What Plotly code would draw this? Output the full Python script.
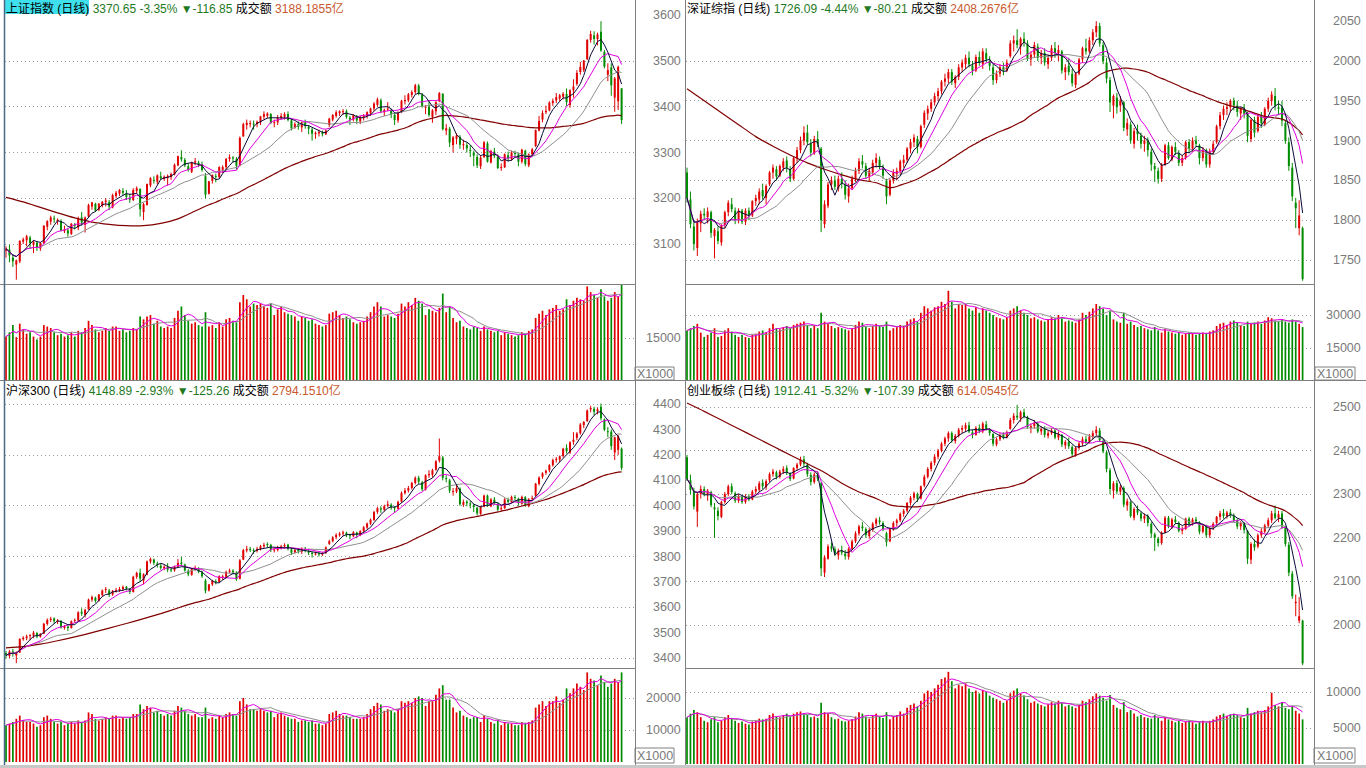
import pandas as pd
import plotly.graph_objects as go

W, H = 1366, 768

# ---------------- 上证指数 ----------------
sh_open = [3085, 3088, 3070, 3055, 3062, 3105, 3108,
           3114, 3098, 3103, 3090, 3102, 3138, 3149, 3155, 3150, 3150, 3128, 3130, 3122, 3142, 3136, 3158, 3142, 3160, 3182, 3188, 3175, 3184,
           3192, 3192, 3180, 3205, 3210, 3216, 3210, 3200, 3196, 3216, 3220, 3170, 3185, 3228, 3240, 3236, 3248, 3242, 3244, 3246, 3252,
           3272, 3290, 3284, 3270, 3258, 3278, 3278, 3274, 3248, 3210, 3238, 3248, 3246, 3262, 3268, 3286, 3288, 3285, 3272, 3335, 3360, 3362, 3362,
           3362, 3366, 3378, 3380, 3384, 3364, 3366, 3376, 3378, 3384, 3370, 3354, 3362, 3355, 3366, 3356, 3350, 3340, 3342, 3344, 3340,
           3360, 3372, 3380, 3386, 3388, 3390, 3376, 3372, 3380, 3368, 3376, 3380, 3386, 3396, 3404, 3414, 3388,
           3394, 3392, 3382, 3370, 3388, 3412, 3414, 3426, 3432, 3446, 3426, 3398, 3400, 3378, 3390, 3412, 3428, 3348, 3352, 3316, 3330, 3334,
           3316, 3316, 3306, 3300, 3290, 3270, 3290, 3320, 3278, 3302, 3290, 3266, 3268, 3294, 3286, 3298, 3296, 3280, 3304, 3272, 3296,
           3314, 3348, 3372, 3388, 3392, 3408, 3414, 3418, 3422, 3428, 3404, 3436, 3450, 3476, 3480, 3504, 3546, 3556, 3548, 3564, 3520, 3470,
           3486, 3420, 3412, 3440]
sh_high = [3095, 3098, 3078, 3066, 3108, 3114, 3120,
           3118, 3108, 3106, 3104, 3141, 3152, 3162, 3162, 3156, 3154, 3140, 3135, 3146, 3146, 3160, 3170, 3160, 3188, 3192, 3190, 3190, 3194,
           3200, 3196, 3210, 3216, 3220, 3222, 3218, 3210, 3222, 3226, 3222, 3190, 3232, 3246, 3248, 3252, 3258, 3250, 3252, 3256, 3276,
           3293, 3305, 3288, 3276, 3280, 3288, 3282, 3280, 3255, 3238, 3252, 3254, 3270, 3272, 3288, 3296, 3292, 3290, 3335, 3365, 3372, 3370, 3370,
           3370, 3380, 3390, 3388, 3386, 3372, 3382, 3386, 3388, 3390, 3374, 3366, 3368, 3368, 3372, 3360, 3354, 3346, 3350, 3348, 3350,
           3376, 3384, 3392, 3392, 3395, 3394, 3380, 3384, 3382, 3380, 3384, 3390, 3398, 3410, 3420, 3418, 3396,
           3410, 3396, 3386, 3390, 3415, 3425, 3430, 3436, 3450, 3450, 3430, 3404, 3412, 3395, 3412, 3432, 3430, 3362, 3356, 3336, 3342, 3338,
           3328, 3322, 3316, 3304, 3296, 3294, 3325, 3324, 3306, 3310, 3296, 3276, 3298, 3302, 3304, 3304, 3300, 3308, 3306, 3298, 3310,
           3350, 3380, 3392, 3402, 3412, 3418, 3430, 3428, 3432, 3440, 3438, 3460, 3480, 3498, 3502, 3548, 3566, 3565, 3562, 3587, 3524, 3495,
           3495, 3465, 3490, 3441]
sh_low = [3070, 3060, 3050, 3022, 3058, 3100, 3095,
          3090, 3080, 3085, 3085, 3100, 3130, 3142, 3146, 3142, 3128, 3124, 3116, 3120, 3132, 3130, 3140, 3125, 3158, 3175, 3170, 3172, 3180,
          3182, 3174, 3178, 3200, 3205, 3206, 3196, 3190, 3194, 3210, 3160, 3152, 3184, 3224, 3232, 3230, 3240, 3238, 3228, 3240, 3250,
          3270, 3280, 3268, 3258, 3255, 3272, 3268, 3258, 3200, 3208, 3232, 3235, 3244, 3255, 3262, 3280, 3278, 3262, 3270, 3335, 3350, 3355, 3350,
          3355, 3360, 3372, 3375, 3362, 3355, 3360, 3372, 3372, 3368, 3348, 3352, 3350, 3345, 3352, 3340, 3326, 3330, 3335, 3335, 3338,
          3356, 3368, 3376, 3380, 3382, 3374, 3360, 3368, 3362, 3362, 3370, 3374, 3380, 3390, 3400, 3386, 3380,
          3390, 3375, 3360, 3365, 3386, 3405, 3410, 3420, 3428, 3425, 3398, 3384, 3378, 3365, 3382, 3410, 3348, 3338, 3312, 3300, 3318, 3308,
          3306, 3300, 3290, 3270, 3266, 3264, 3288, 3278, 3276, 3288, 3264, 3260, 3266, 3280, 3282, 3290, 3270, 3276, 3270, 3268, 3292,
          3312, 3346, 3366, 3384, 3390, 3402, 3408, 3412, 3416, 3402, 3398, 3420, 3446, 3470, 3476, 3502, 3540, 3536, 3534, 3520, 3484, 3456,
          3424, 3389, 3393, 3362]
sh_close = [3090, 3075, 3062, 3064, 3107, 3110, 3117,
            3102, 3105, 3092, 3102, 3140, 3150, 3158, 3154, 3153, 3130, 3132, 3123, 3144, 3140, 3156, 3147, 3158, 3185, 3191, 3173, 3188, 3192,
            3195, 3182, 3207, 3212, 3218, 3212, 3203, 3197, 3218, 3222, 3176, 3187, 3231, 3244, 3238, 3250, 3244, 3247, 3249, 3253, 3273,
            3292, 3285, 3272, 3262, 3279, 3281, 3275, 3262, 3208, 3237, 3251, 3246, 3268, 3268, 3286, 3290, 3287, 3271, 3332, 3362, 3365, 3363, 3361,
            3367, 3379, 3384, 3385, 3365, 3366, 3376, 3380, 3384, 3371, 3353, 3362, 3356, 3366, 3358, 3352, 3341, 3343, 3345, 3340, 3348,
            3374, 3382, 3388, 3390, 3390, 3378, 3372, 3381, 3370, 3378, 3380, 3388, 3396, 3407, 3416, 3390, 3393,
            3395, 3383, 3371, 3388, 3413, 3415, 3427, 3432, 3447, 3429, 3402, 3399, 3382, 3392, 3410, 3430, 3351, 3353, 3322, 3333, 3337, 3317,
            3318, 3309, 3303, 3293, 3272, 3289, 3322, 3280, 3303, 3292, 3266, 3267, 3296, 3287, 3300, 3297, 3280, 3306, 3275, 3296, 3307,
            3349, 3369, 3386, 3391, 3409, 3413, 3421, 3425, 3428, 3410, 3436, 3444, 3474, 3487, 3501, 3546, 3559, 3548, 3558, 3523, 3488, 3480,
            3447, 3462, 3487, 3371]
sh_vol = [15500, 17000, 19500, 15300, 20000, 18000, 16500,
          17000, 15500, 14500, 15500, 19500, 19000, 18500, 17000, 16000, 16500, 15500, 16000, 17000, 15500, 17500, 17000, 18500, 21000, 19500, 18000, 17000, 17500,
          18500, 17500, 19000, 19000, 17500, 18000, 17000, 17500, 18500, 18000, 22500, 21500, 22500, 23000, 20000, 21000, 19000, 18500, 19000, 18500, 22000,
          24500, 26000, 23000, 21000, 20000, 20500, 19500, 19000, 24000, 19000, 19500, 18500, 20500, 19000, 21500, 22000, 21000, 20500, 27500, 30000, 28500, 26000, 27000,
          26500, 27000, 26000, 25500, 27000, 23000, 25000, 26000, 24000, 23500, 23000, 22500, 21000, 22500, 22000, 21000, 21500, 20000, 19500, 19000, 19500,
          23500, 24000, 24500, 23000, 22000, 22500, 21500, 20500, 20000, 20500, 21000, 22500, 24000, 26000, 27500, 26000, 22500,
          23000, 22500, 22000, 23500, 27000, 26000, 27500, 26500, 29000, 28000, 27000, 23000, 25000, 24500, 24000, 25500, 30500, 24000, 26000, 22000, 20500, 21000,
          19000, 18500, 18000, 19000, 18500, 17500, 19000, 18000, 17500, 17000, 17500, 16000, 17000, 16500, 16000, 15500, 16000, 17000, 16500, 17500, 18000,
          22000, 23500, 24500, 23000, 25000, 25500, 26500, 24500, 25000, 28500, 26500, 28000, 29000, 28500, 28000, 33000, 31000, 30000, 29000, 32000, 29500, 28000,
          29000, 31000, 29500, 33500]
sh_ma60_head_idx = [0, 5, 10, 15, 20, 25, 30, 35, 40, 45, 50, 55]
sh_ma60_head = [3202, 3192, 3180, 3168, 3157, 3148, 3143, 3140, 3140, 3145, 3155, 3172]

# ---------------- 深证综指 ----------------
sz_open = [1860, 1826, 1792, 1765, 1796, 1808, 1804,
           1810, 1780, 1786, 1772, 1794, 1810, 1820, 1812, 1800, 1812, 1798, 1812, 1806, 1824, 1826, 1838, 1828, 1845, 1860, 1864, 1856, 1866,
           1875, 1864, 1852, 1878, 1888, 1900, 1910, 1896, 1884, 1902, 1890, 1795, 1818, 1845, 1850, 1840, 1852, 1844, 1830, 1840, 1852,
           1862, 1874, 1868, 1855, 1860, 1872, 1876, 1866, 1850, 1832, 1850, 1858, 1862, 1872, 1876, 1890, 1898, 1902, 1892, 1920, 1934, 1940, 1948,
           1956, 1962, 1974, 1978, 1986, 1972, 1980, 1992, 1996, 2004, 1994, 1988, 2005, 1996, 2010, 2000, 1992, 1976, 1984, 1992, 1988,
           2006, 2022, 2026, 2018, 2028, 2022, 2002, 2008, 2018, 2004, 2010, 1996, 2004, 2016, 2010, 2012, 1986,
           1994, 1984, 1970, 1984, 2002, 2016, 2012, 2026, 2036, 2044, 2020, 1998, 1976, 1944, 1954, 1944, 1948, 1914, 1920, 1896, 1912, 1906,
           1896, 1900, 1886, 1868, 1862, 1852, 1870, 1894, 1876, 1892, 1884, 1872, 1878, 1898, 1890, 1900, 1894, 1878, 1888, 1870, 1886,
           1898, 1918, 1932, 1940, 1942, 1950, 1944, 1934, 1940, 1934, 1902, 1926, 1912, 1930, 1920, 1940, 1950, 1956, 1942, 1942, 1922, 1898,
           1866, 1822, 1790, 1790]
sz_high = [1866, 1836, 1800, 1802, 1812, 1815, 1816,
           1812, 1790, 1792, 1795, 1812, 1825, 1828, 1816, 1815, 1814, 1815, 1816, 1825, 1832, 1840, 1846, 1845, 1862, 1870, 1868, 1870, 1878,
           1880, 1868, 1880, 1892, 1905, 1918, 1920, 1902, 1906, 1912, 1892, 1825, 1848, 1855, 1856, 1856, 1860, 1850, 1846, 1856, 1866,
           1878, 1882, 1872, 1866, 1876, 1884, 1880, 1870, 1852, 1852, 1864, 1866, 1876, 1882, 1892, 1902, 1908, 1906, 1920, 1938, 1944, 1952, 1960,
           1966, 1976, 1984, 1990, 1990, 1982, 1996, 2002, 2008, 2012, 2000, 2008, 2012, 2016, 2016, 2006, 1996, 1988, 1996, 1998, 2002,
           2026, 2032, 2040, 2030, 2036, 2026, 2012, 2024, 2022, 2014, 2016, 2008, 2020, 2024, 2020, 2014, 1996,
           2004, 1990, 1986, 2004, 2018, 2028, 2030, 2040, 2050, 2048, 2024, 2004, 1980, 1958, 1960, 1956, 1950, 1928, 1924, 1916, 1920, 1910,
           1906, 1904, 1890, 1872, 1866, 1872, 1896, 1898, 1894, 1898, 1888, 1882, 1900, 1902, 1904, 1906, 1896, 1892, 1890, 1890, 1900,
           1920, 1936, 1944, 1948, 1952, 1954, 1950, 1942, 1946, 1936, 1928, 1930, 1934, 1936, 1942, 1954, 1962, 1966, 1950, 1950, 1926, 1904,
           1872, 1828, 1825, 1792]
sz_low = [1822, 1790, 1762, 1755, 1785, 1800, 1796,
          1778, 1752, 1770, 1768, 1790, 1805, 1810, 1795, 1796, 1795, 1794, 1800, 1804, 1818, 1820, 1826, 1820, 1843, 1852, 1850, 1854, 1862,
          1860, 1848, 1850, 1872, 1884, 1894, 1895, 1880, 1882, 1892, 1785, 1790, 1815, 1838, 1838, 1836, 1840, 1826, 1822, 1838, 1848,
          1858, 1865, 1852, 1848, 1856, 1866, 1864, 1852, 1820, 1830, 1846, 1850, 1858, 1866, 1872, 1884, 1892, 1884, 1890, 1916, 1926, 1936, 1944,
          1950, 1958, 1968, 1972, 1970, 1966, 1976, 1986, 1990, 1992, 1982, 1986, 1994, 1990, 1998, 1988, 1970, 1972, 1980, 1982, 1986,
          2004, 2012, 2016, 2008, 2018, 2000, 1994, 2004, 2000, 1996, 1994, 1990, 2000, 2004, 2000, 1984, 1976,
          1982, 1968, 1966, 1982, 1998, 2008, 2010, 2020, 2030, 2018, 1996, 1972, 1936, 1928, 1934, 1936, 1912, 1906, 1896, 1890, 1900, 1890,
          1886, 1880, 1862, 1848, 1846, 1848, 1868, 1876, 1874, 1882, 1868, 1868, 1876, 1884, 1886, 1892, 1870, 1874, 1866, 1866, 1882,
          1896, 1914, 1926, 1932, 1936, 1938, 1930, 1926, 1928, 1898, 1898, 1904, 1910, 1916, 1918, 1936, 1944, 1938, 1932, 1918, 1896, 1862,
          1824, 1790, 1781, 1724]
sz_close = [1828, 1795, 1770, 1798, 1808, 1806, 1811,
            1784, 1788, 1774, 1793, 1810, 1822, 1814, 1800, 1812, 1798, 1812, 1806, 1824, 1828, 1836, 1830, 1843, 1860, 1866, 1855, 1868, 1874,
            1866, 1852, 1878, 1888, 1900, 1910, 1898, 1885, 1902, 1896, 1800, 1820, 1845, 1850, 1842, 1852, 1846, 1832, 1840, 1852, 1862,
            1874, 1870, 1856, 1862, 1872, 1878, 1868, 1856, 1830, 1850, 1860, 1862, 1874, 1876, 1890, 1898, 1904, 1892, 1918, 1935, 1940, 1948, 1956,
            1962, 1974, 1978, 1986, 1974, 1980, 1992, 1998, 2004, 1996, 1988, 2005, 1998, 2012, 2002, 1994, 1976, 1984, 1992, 1988, 1998,
            2022, 2026, 2020, 2028, 2024, 2004, 2008, 2020, 2004, 2010, 1998, 2004, 2016, 2010, 2014, 1988, 1992,
            1986, 1972, 1984, 2002, 2016, 2012, 2026, 2036, 2044, 2022, 2000, 1978, 1948, 1956, 1942, 1950, 1916, 1922, 1900, 1912, 1908, 1896,
            1900, 1888, 1870, 1864, 1852, 1870, 1894, 1878, 1892, 1886, 1872, 1878, 1898, 1890, 1900, 1896, 1878, 1888, 1870, 1886, 1896,
            1918, 1932, 1940, 1942, 1950, 1944, 1936, 1940, 1934, 1906, 1926, 1910, 1930, 1922, 1940, 1950, 1958, 1944, 1940, 1925, 1900, 1868,
            1830, 1815, 1806, 1726]
sz_vol = [23000, 24000, 25000, 26000, 22000, 20000, 21000,
          22000, 24000, 20000, 20500, 23000, 24000, 22500, 21000, 20000, 21000, 20000, 19500, 21000, 21500, 22500, 23000, 22000, 24000, 26000, 24000, 23500, 24500,
          25000, 24000, 25500, 26000, 26500, 27000, 25500, 24000, 25000, 24000, 31000, 27000, 26000, 25000, 24000, 24500, 24000, 23500, 23000, 24000, 25500,
          27000, 26500, 25000, 24000, 25000, 26000, 25000, 24500, 27000, 23000, 24000, 24500, 25500, 25000, 27000, 28000, 28500, 27000, 31000, 34000, 33000, 32000, 33500,
          34000, 36000, 35000, 41000, 36000, 33000, 35000, 34500, 35000, 33000, 32000, 33500, 31000, 33000, 32000, 31000, 30000, 29000, 28500, 28000, 29000,
          32000, 33000, 34000, 32000, 31000, 30000, 28500, 29000, 28000, 27500, 27000, 28000, 29000, 28500, 30000, 29000, 27000,
          27500, 27000, 26500, 28000, 31000, 30000, 31500, 33000, 35000, 34000, 33000, 30000, 32000, 28000, 27000, 26500, 31000, 26000, 27000, 25500, 24500, 25000,
          24000, 23500, 23000, 24500, 23000, 22000, 23500, 22500, 22000, 21500, 22000, 21000, 21500, 22000, 21500, 21000, 21500, 22000, 21500, 22500, 23000,
          25000, 26000, 26500, 25500, 27000, 27500, 26500, 25500, 25000, 27000, 26000, 26500, 27000, 26000, 27500, 29000, 28500, 27500, 27000, 28000, 27000, 26500,
          28000, 27000, 26000, 24500]
sz_ma60_head_idx = [0, 5, 10, 15, 20, 25, 30, 35, 40, 45, 50, 55]
sz_ma60_head = [1965, 1950, 1935, 1920, 1905, 1893, 1882, 1872, 1864, 1857, 1851, 1847]

# ---------------- 沪深300 ----------------
hs_open = [3420, 3408, 3424, 3410, 3422, 3474, 3478,
           3486, 3488, 3498, 3484, 3496, 3534, 3550, 3556, 3542, 3546, 3518, 3524, 3518, 3546, 3548, 3582, 3570, 3592, 3630, 3638, 3626, 3648,
           3668, 3666, 3650, 3664, 3668, 3672, 3680, 3672, 3660, 3720, 3736, 3705, 3728, 3780, 3788, 3772, 3764, 3754, 3760, 3746, 3746,
           3760, 3776, 3768, 3744, 3728, 3750, 3752, 3738, 3705, 3666, 3690, 3702, 3700, 3718, 3720, 3740, 3744, 3736, 3712, 3788, 3824, 3830, 3824,
           3822, 3830, 3840, 3846, 3846, 3824, 3826, 3834, 3840, 3846, 3828, 3816, 3826, 3818, 3830, 3820, 3814, 3808, 3812, 3808, 3814,
           3850, 3860, 3876, 3884, 3890, 3894, 3884, 3880, 3894, 3884, 3900, 3914, 3930, 3944, 3976, 3990, 3984,
           4000, 4004, 3994, 3988, 4016, 4050, 4060, 4070, 4090, 4110, 4092, 4064, 4120, 4122, 4142, 4178, 4190, 4106, 4100, 4054, 4056, 4068,
           4004, 4016, 4008, 4002, 3992, 3968, 3996, 4040, 3998, 4024, 4008, 3986, 3990, 4024, 4014, 4034, 4028, 4008, 4034, 3998, 4026,
           4040, 4086, 4114, 4130, 4140, 4160, 4180, 4182, 4196, 4228, 4210, 4252, 4268, 4286, 4318, 4334, 4380, 4382, 4372, 4390, 4340, 4292,
           4292, 4210, 4220, 4225]
hs_high = [3428, 3432, 3436, 3426, 3478, 3486, 3492,
           3494, 3506, 3502, 3498, 3538, 3556, 3562, 3560, 3554, 3550, 3530, 3528, 3548, 3556, 3584, 3596, 3594, 3634, 3646, 3642, 3652, 3670,
           3680, 3672, 3668, 3676, 3680, 3686, 3684, 3676, 3724, 3740, 3752, 3734, 3784, 3796, 3792, 3780, 3772, 3766, 3774, 3756, 3764,
           3790, 3798, 3772, 3750, 3752, 3764, 3758, 3744, 3712, 3692, 3708, 3710, 3726, 3728, 3744, 3752, 3750, 3742, 3790, 3830, 3842, 3838, 3832,
           3838, 3846, 3854, 3856, 3850, 3836, 3842, 3846, 3852, 3850, 3834, 3830, 3832, 3836, 3838, 3826, 3818, 3820, 3818, 3818, 3840,
           3866, 3880, 3892, 3896, 3902, 3898, 3890, 3900, 3898, 3904, 3920, 3934, 3950, 3980, 3996, 3998, 4004,
           4020, 4010, 3998, 4020, 4056, 4070, 4078, 4094, 4116, 4118, 4098, 4124, 4140, 4146, 4180, 4265, 4196, 4120, 4106, 4070, 4082, 4072,
           4024, 4022, 4018, 4008, 3996, 4000, 4044, 4044, 4030, 4034, 4012, 4000, 4030, 4032, 4040, 4042, 4032, 4040, 4038, 4030, 4040,
           4090, 4116, 4132, 4142, 4164, 4186, 4192, 4198, 4228, 4242, 4254, 4290, 4290, 4326, 4334, 4380, 4394, 4390, 4388, 4403, 4344, 4310,
           4300, 4272, 4280, 4230]
hs_low = [3398, 3400, 3405, 3380, 3420, 3468, 3470,
          3470, 3478, 3478, 3480, 3494, 3528, 3542, 3536, 3534, 3516, 3512, 3506, 3516, 3538, 3544, 3566, 3560, 3590, 3622, 3618, 3622, 3642,
          3656, 3640, 3645, 3658, 3660, 3664, 3666, 3652, 3658, 3712, 3700, 3690, 3726, 3772, 3766, 3756, 3748, 3746, 3738, 3738, 3740,
          3756, 3762, 3740, 3722, 3724, 3744, 3734, 3716, 3655, 3662, 3684, 3690, 3696, 3708, 3714, 3734, 3730, 3704, 3710, 3786, 3816, 3818, 3810,
          3816, 3824, 3834, 3836, 3818, 3816, 3820, 3828, 3832, 3824, 3806, 3812, 3812, 3810, 3816, 3806, 3796, 3804, 3800, 3802, 3810,
          3846, 3856, 3868, 3878, 3882, 3876, 3868, 3876, 3872, 3880, 3894, 3908, 3924, 3940, 3968, 3972, 3978,
          3994, 3984, 3972, 3984, 4012, 4044, 4052, 4064, 4084, 4086, 4058, 4060, 4110, 4112, 4138, 4170, 4100, 4092, 4050, 4040, 4050, 4000,
          3996, 3998, 3990, 3975, 3962, 3964, 3994, 3996, 3994, 4004, 3980, 3978, 3988, 4008, 4010, 4022, 4000, 4004, 3996, 3994, 4020,
          4036, 4080, 4106, 4122, 4132, 4154, 4170, 4172, 4190, 4206, 4204, 4240, 4258, 4280, 4306, 4330, 4368, 4356, 4360, 4336, 4294, 4270,
          4220, 4180, 4200, 4140]
hs_close = [3410, 3425, 3422, 3420, 3475, 3480, 3485,
            3490, 3500, 3485, 3495, 3535, 3550, 3555, 3545, 3548, 3520, 3525, 3518, 3545, 3550, 3580, 3575, 3590, 3630, 3640, 3625, 3650, 3666,
            3670, 3650, 3665, 3668, 3672, 3680, 3675, 3660, 3720, 3735, 3713, 3730, 3780, 3790, 3775, 3765, 3755, 3760, 3748, 3745, 3760,
            3775, 3770, 3745, 3730, 3750, 3755, 3740, 3722, 3665, 3690, 3705, 3700, 3722, 3720, 3740, 3745, 3738, 3710, 3785, 3825, 3830, 3825, 3822,
            3830, 3840, 3846, 3845, 3825, 3826, 3835, 3840, 3845, 3830, 3815, 3825, 3820, 3830, 3822, 3815, 3810, 3812, 3808, 3812, 3836,
            3860, 3875, 3885, 3890, 3895, 3885, 3880, 3895, 3885, 3900, 3915, 3930, 3945, 3975, 3990, 3985, 3998,
            4006, 3995, 3990, 4015, 4050, 4060, 4070, 4090, 4110, 4095, 4065, 4120, 4125, 4140, 4175, 4195, 4110, 4105, 4060, 4055, 4070, 4006,
            4015, 4010, 4005, 3995, 3970, 3995, 4040, 4000, 4025, 4010, 3985, 3990, 4025, 4015, 4035, 4030, 4010, 4035, 4000, 4025, 4030,
            4087, 4111, 4128, 4138, 4160, 4180, 4185, 4195, 4225, 4215, 4250, 4260, 4285, 4320, 4330, 4375, 4385, 4370, 4380, 4345, 4300, 4290,
            4235, 4270, 4274, 4149]
hs_vol = [11500, 12000, 12500, 13500, 14500, 13000, 12500,
          12500, 12000, 11000, 11500, 14000, 14500, 13500, 12500, 12000, 12500, 11500, 12000, 12500, 12000, 13000, 12500, 13000, 15500, 15000, 13500, 13000, 13500,
          14000, 13500, 14500, 14500, 13500, 14000, 13500, 14000, 15000, 15000, 18000, 16500, 17500, 17000, 15500, 16000, 15000, 14500, 15000, 14500, 16000,
          17500, 17000, 16000, 15000, 14500, 15000, 14000, 14000, 17000, 13500, 14000, 13500, 14500, 14000, 15000, 15500, 15000, 14500, 19000, 20000, 18000, 16500, 16500,
          16000, 16500, 16000, 15500, 16000, 14000, 15000, 15500, 14500, 14000, 13500, 13500, 12500, 13000, 13000, 12500, 13000, 12000, 12000, 11500, 12000,
          15000, 15500, 16000, 15000, 14500, 14500, 14000, 13500, 13500, 13500, 14000, 15000, 16500, 17500, 18500, 18000, 16000,
          16500, 16000, 15500, 16500, 19000, 18500, 19000, 18500, 20000, 20500, 20000, 17500, 19000, 19000, 21000, 23000, 24000, 19500, 19500, 17000, 15500, 16000,
          14500, 14000, 13500, 14000, 14000, 12500, 14500, 13500, 12500, 12000, 13000, 11500, 12500, 12000, 12000, 11500, 11500, 12500, 12000, 12500, 13000,
          17000, 18000, 19000, 17500, 19000, 19000, 20500, 18500, 19500, 23000, 21500, 23000, 24500, 23500, 22500, 28000, 26000, 25500, 24000, 27000, 25000, 23500,
          24500, 26000, 25000, 28000]
hs_ma60_head_idx = [0, 5, 10, 15, 20, 25, 30, 35, 40, 45, 50, 55]
hs_ma60_head = [3440, 3445, 3455, 3468, 3483, 3500, 3518, 3536, 3555, 3575, 3597, 3618]

# ---------------- 创业板综 ----------------
cy_open = [2385, 2332, 2308, 2260, 2300, 2312, 2300,
           2305, 2270, 2262, 2248, 2282, 2300, 2318, 2302, 2285, 2296, 2282, 2296, 2288, 2306, 2310, 2326, 2316, 2332, 2346, 2350, 2340, 2352,
           2360, 2348, 2336, 2360, 2368, 2380, 2368, 2344, 2328, 2345, 2325, 2120, 2152, 2180, 2174, 2160, 2170, 2164, 2156, 2175, 2192,
           2210, 2226, 2220, 2204, 2218, 2232, 2240, 2234, 2210, 2192, 2220, 2234, 2240, 2255, 2262, 2280, 2292, 2300, 2290, 2320, 2340, 2358, 2372,
           2386, 2400, 2416, 2428, 2440, 2422, 2434, 2448, 2450, 2458, 2442, 2436, 2452, 2444, 2460, 2448, 2438, 2414, 2426, 2436, 2430,
           2450, 2470, 2480, 2474, 2488, 2476, 2452, 2456, 2462, 2444, 2450, 2434, 2440, 2446, 2430, 2436, 2412,
           2420, 2408, 2390, 2406, 2416, 2426, 2420, 2432, 2440, 2446, 2422, 2396, 2355, 2308, 2325, 2306, 2314, 2274, 2282, 2246, 2266, 2256,
           2244, 2250, 2232, 2208, 2198, 2188, 2212, 2246, 2224, 2242, 2234, 2216, 2220, 2244, 2232, 2242, 2236, 2214, 2228, 2206, 2222,
           2234, 2248, 2256, 2250, 2258, 2250, 2240, 2226, 2232, 2216, 2150, 2186, 2180, 2206, 2214, 2228, 2240, 2256, 2246, 2256, 2224, 2184,
           2118, 2050, 2010, 2010]
cy_high = [2390, 2345, 2315, 2305, 2320, 2318, 2312,
           2308, 2280, 2270, 2285, 2305, 2322, 2325, 2306, 2300, 2298, 2300, 2300, 2310, 2318, 2330, 2334, 2334, 2350, 2358, 2354, 2356, 2364,
           2366, 2350, 2362, 2372, 2386, 2388, 2372, 2350, 2350, 2352, 2328, 2160, 2185, 2190, 2180, 2175, 2182, 2172, 2178, 2196, 2215,
           2230, 2236, 2224, 2222, 2236, 2246, 2248, 2238, 2214, 2222, 2238, 2244, 2258, 2266, 2282, 2296, 2306, 2304, 2320, 2345, 2362, 2376, 2392,
           2404, 2420, 2432, 2444, 2444, 2438, 2452, 2458, 2464, 2466, 2448, 2456, 2460, 2466, 2468, 2452, 2440, 2430, 2440, 2442, 2446,
           2475, 2486, 2505, 2492, 2496, 2480, 2462, 2470, 2466, 2456, 2456, 2446, 2452, 2450, 2444, 2438, 2424,
           2430, 2412, 2410, 2420, 2432, 2434, 2438, 2446, 2456, 2452, 2426, 2400, 2360, 2330, 2332, 2322, 2318, 2290, 2286, 2270, 2274, 2260,
           2256, 2254, 2236, 2212, 2202, 2215, 2250, 2250, 2246, 2250, 2238, 2226, 2246, 2248, 2246, 2248, 2238, 2232, 2230, 2226, 2236,
           2250, 2262, 2266, 2262, 2266, 2256, 2244, 2238, 2236, 2218, 2190, 2196, 2210, 2222, 2232, 2246, 2262, 2274, 2262, 2262, 2228, 2190,
           2124, 2070, 2064, 2012]
cy_low = [2330, 2300, 2265, 2225, 2290, 2295, 2285,
          2270, 2200, 2240, 2245, 2278, 2296, 2300, 2280, 2280, 2278, 2278, 2284, 2286, 2300, 2305, 2312, 2310, 2328, 2340, 2334, 2336, 2346,
          2344, 2330, 2334, 2354, 2364, 2362, 2340, 2320, 2324, 2330, 2112, 2110, 2150, 2168, 2158, 2150, 2160, 2150, 2150, 2172, 2188,
          2205, 2215, 2200, 2198, 2214, 2226, 2230, 2215, 2180, 2190, 2216, 2226, 2236, 2248, 2258, 2274, 2286, 2282, 2288, 2316, 2336, 2352, 2366,
          2380, 2396, 2410, 2420, 2418, 2416, 2430, 2440, 2444, 2440, 2428, 2434, 2440, 2440, 2446, 2434, 2410, 2410, 2422, 2426, 2428,
          2448, 2462, 2470, 2466, 2474, 2450, 2440, 2450, 2440, 2436, 2430, 2428, 2436, 2426, 2424, 2408, 2404,
          2404, 2385, 2386, 2402, 2410, 2414, 2416, 2426, 2434, 2420, 2394, 2350, 2300, 2290, 2300, 2298, 2270, 2262, 2246, 2240, 2252, 2238,
          2234, 2226, 2200, 2170, 2180, 2184, 2210, 2222, 2220, 2232, 2212, 2208, 2218, 2226, 2228, 2232, 2208, 2210, 2200, 2200, 2218,
          2230, 2240, 2244, 2244, 2246, 2236, 2220, 2218, 2210, 2140, 2140, 2170, 2176, 2200, 2210, 2222, 2234, 2242, 2236, 2220, 2180, 2112,
          2060, 2020, 2004, 1908]
cy_close = [2335, 2310, 2272, 2300, 2312, 2300, 2308,
            2275, 2265, 2250, 2282, 2300, 2318, 2305, 2285, 2296, 2282, 2296, 2288, 2306, 2312, 2325, 2318, 2330, 2346, 2352, 2340, 2352, 2358,
            2350, 2335, 2360, 2368, 2380, 2370, 2346, 2328, 2345, 2336, 2130, 2155, 2180, 2175, 2164, 2170, 2166, 2158, 2175, 2192, 2210,
            2226, 2222, 2206, 2218, 2232, 2242, 2236, 2220, 2190, 2220, 2234, 2240, 2255, 2262, 2280, 2292, 2302, 2290, 2318, 2340, 2358, 2372, 2386,
            2400, 2416, 2428, 2440, 2424, 2434, 2448, 2452, 2458, 2444, 2436, 2452, 2446, 2462, 2450, 2440, 2416, 2426, 2436, 2430, 2442,
            2470, 2480, 2476, 2488, 2478, 2454, 2456, 2464, 2444, 2450, 2436, 2440, 2446, 2430, 2438, 2414, 2420,
            2410, 2392, 2406, 2416, 2426, 2420, 2432, 2440, 2448, 2424, 2398, 2358, 2312, 2325, 2306, 2316, 2276, 2284, 2250, 2266, 2258, 2244,
            2250, 2234, 2210, 2200, 2188, 2212, 2246, 2226, 2242, 2236, 2216, 2220, 2244, 2232, 2242, 2238, 2214, 2228, 2206, 2222, 2232,
            2248, 2256, 2250, 2258, 2252, 2240, 2226, 2234, 2218, 2152, 2186, 2178, 2206, 2216, 2228, 2240, 2256, 2246, 2254, 2226, 2186, 2120,
            2066, 2053, 2020, 1912]
cy_vol = [6500, 7000, 7500, 7200, 6500, 6000, 5800,
          6200, 6500, 5800, 6000, 6500, 6800, 6400, 6000, 5700, 5900, 5600, 5500, 5900, 6000, 6300, 6200, 6300, 6800, 7000, 6600, 6500, 6800,
          7000, 6500, 7000, 7200, 7300, 7100, 6800, 6500, 6600, 6400, 8500, 7200, 7000, 6500, 6200, 6300, 6000, 5900, 6000, 6200, 6600,
          7200, 7000, 6600, 6300, 6700, 7000, 6600, 6400, 7200, 6200, 6600, 6800, 7300, 7000, 7800, 8200, 8400, 8000, 8800, 9800, 10200, 10000, 10500,
          11000, 11800, 12000, 12800, 11500, 10500, 11000, 10800, 11200, 10500, 10000, 10200, 9800, 10300, 10000, 9500, 9200, 9000, 8800, 8500, 8800,
          9800, 10200, 10500, 9800, 9500, 9000, 8500, 8700, 8400, 8200, 8000, 8300, 8600, 8400, 8800, 8500, 8000,
          8200, 8000, 7800, 8200, 8800, 8600, 9000, 9400, 9800, 9500, 9200, 8800, 9600, 8200, 7800, 7600, 8600, 7200, 7500, 7000, 6600, 6800,
          6500, 6400, 6300, 6800, 6400, 6000, 6500, 6200, 6000, 5800, 6000, 5700, 5900, 6000, 5800, 5600, 5800, 6000, 5700, 6000, 6200,
          6600, 6800, 7000, 6700, 6900, 7000, 6800, 6500, 6400, 7800, 7000, 7200, 7400, 7200, 7500, 8000, 9900, 8200, 8000, 8600, 7800, 7600,
          8000, 7400, 7000, 6200]
cy_ma60_head_idx = [0, 5, 10, 15, 20, 25, 30, 35, 40, 45, 50, 55]
cy_ma60_head = [2509, 2490, 2470, 2450, 2430, 2410, 2390, 2370, 2350, 2325, 2305, 2290]

# ---------------- titles / axis labels ----------------
titles = [
    ("上证指数 (日线)", "3370.65 -3.35% ▼-116.85", "3188.1855亿"),
    ("深证综指 (日线)", "1726.09 -4.44% ▼-80.21", "2408.2676亿"),
    ("沪深300 (日线)", "4148.89 -2.93% ▼-125.26", "2794.1510亿"),
    ("创业板综 (日线)", "1912.41 -5.32% ▼-107.39", "614.0545亿"),
]
sh_labels = [3600, 3500, 3400, 3300, 3200, 3100]
sz_labels = [2050, 2000, 1950, 1900, 1850, 1800, 1750]
hs_labels = [4400, 4300, 4200, 4100, 4000, 3900, 3800, 3700, 3600, 3500, 3400]
cy_labels = [2500, 2400, 2300, 2200, 2100, 2000]
sh_grid = [3500, 3400, 3300, 3200, 3100]
sz_grid = [2000, 1950, 1900, 1850, 1800, 1750]
hs_grid = [4400, 4200, 4000, 3800, 3600, 3400]
cy_grid = [2500, 2400, 2300, 2200, 2100, 2000]
sh_vlabels = [15000]
sz_vlabels = [30000, 15000]
hs_vlabels = [20000, 10000]
cy_vlabels = [10000, 5000]

RED = "#e00000"
GREEN = "#008c00"
MA_COLORS = {5: "#0a0a3c", 10: "#e000e0", 20: "#909090"}
MA60_COLOR = "#800000"
GRID = "#9a9a9a"
FRAME = "#808080"
LABEL = "#7a7a7a"


def fx(p):
    return p / W


def fy(p):
    return 1 - p / H


def lin_range(p_lo, p_hi, v1, p1, v2, p2):
    s = (v2 - v1) / (p2 - p1)
    return [v1 + (p_lo - p1) * s, v1 + (p_hi - p1) * s]


# layout geometry (pixels) for the 4 panels
panels = [
    dict(o=sh_open, h=sh_high, l=sh_low, c=sh_close, v=sh_vol, hi=sh_ma60_head_idx, hv=sh_ma60_head,
         xdom=(5, 635), xcal=(6, 621.6), pdom=(0, 284), pcal=(3500, 61, 3100, 244),
         vdom=(285, 380), vcal=(15000, 338, 0, 381), labels=sh_labels, grid=sh_grid,
         vlabels=sh_vlabels, vgrid=sh_vlabels, lab_x=683, title_xy=(5, 0), xbox=(635, 674, 367, 380)),
    dict(o=sz_open, h=sz_high, l=sz_low, c=sz_close, v=sz_vol, hi=sz_ma60_head_idx, hv=sz_ma60_head,
         xdom=(686, 1314), xcal=(687, 1302.6), pdom=(0, 284), pcal=(2000, 61, 1750, 260),
         vdom=(285, 380), vcal=(30000, 315, 15000, 348), labels=sz_labels, grid=sz_grid,
         vlabels=sz_vlabels, vgrid=sz_vlabels, lab_x=1363, title_xy=(686, 0), xbox=(1315, 1355, 367, 380)),
    dict(o=hs_open, h=hs_high, l=hs_low, c=hs_close, v=hs_vol, hi=hs_ma60_head_idx, hv=hs_ma60_head,
         xdom=(5, 635), xcal=(6, 621.6), pdom=(381, 668), pcal=(4200, 455, 3400, 658),
         vdom=(669, 765), vcal=(20000, 698, 10000, 730), labels=hs_labels, grid=hs_grid,
         vlabels=hs_vlabels, vgrid=hs_vlabels, lab_x=683, title_xy=(5, 382), xbox=(635, 674, 748, 763)),
    dict(o=cy_open, h=cy_high, l=cy_low, c=cy_close, v=cy_vol, hi=cy_ma60_head_idx, hv=cy_ma60_head,
         xdom=(686, 1314), xcal=(687, 1302.6), pdom=(381, 668), pcal=(2500, 407, 2000, 625),
         vdom=(669, 765), vcal=(10000, 692, 5000, 728), labels=cy_labels, grid=cy_grid,
         vlabels=cy_vlabels, vgrid=cy_vlabels, lab_x=1363, title_xy=(686, 382), xbox=(1314, 1355, 748, 763)),
]

fig = go.Figure()
layout = dict(width=W, height=H, margin=dict(l=0, r=0, t=0, b=0, pad=0),
              paper_bgcolor="white", plot_bgcolor="rgba(0,0,0,0)", showlegend=False,
              hovermode=False, template="none", barmode="overlay",
              font=dict(family="Liberation Sans, Noto Sans CJK SC", size=12))
annotations = []
shapes = []

for k, P in enumerate(panels):
    n = len(P["c"])
    for arr in ("o", "h", "l", "v"):
        assert len(P[arr]) == n, (k, arr, len(P[arr]), n)
    idx = list(range(n))
    pa, va = 2 * k + 1, 2 * k + 2
    xp, yp = ("x" if pa == 1 else f"x{pa}"), ("y" if pa == 1 else f"y{pa}")
    xv, yv = f"x{va}", f"y{va}"

    x0, x1 = P["xdom"]
    c0, c1 = P["xcal"]
    xr = lin_range(x0, x1, 0, c0, n - 1, c1)

    pv1, pp1, pv2, pp2 = P["pcal"]
    py0, py1 = P["pdom"]
    yr = lin_range(py1, py0, pv1, pp1, pv2, pp2)
    per_px = abs(pv1 - pv2) / abs(pp2 - pp1)
    vv1, vp1, vv2, vp2 = P["vcal"]
    vy0, vy1 = P["vdom"]
    vr = lin_range(vy1, vy0, vv1, vp1, vv2, vp2)

    up = [c >= o for o, c in zip(P["o"], P["c"])]
    colors = [RED if u else GREEN for u in up]

    # candle wicks (one polyline per colour, gaps between candles)
    for want, col in ((True, RED), (False, GREEN)):
        wx, wy = [], []
        for i in range(n):
            if up[i] == want:
                wx += [i, i, None]
                wy += [P["l"][i], P["h"][i], None]
        fig.add_trace(go.Scatter(x=wx, y=wy, mode="lines", xaxis=xp, yaxis=yp,
                                 line=dict(color=col, width=1), hoverinfo="skip"))
    # candle bodies
    body_base = [min(o, c) for o, c in zip(P["o"], P["c"])]
    body_h = [max(abs(c - o), per_px) for o, c in zip(P["o"], P["c"])]
    fig.add_trace(go.Bar(x=idx, y=body_h, base=body_base, width=0.58, xaxis=xp, yaxis=yp,
                         marker=dict(color=colors, line=dict(width=0)), hoverinfo="skip"))

    close = pd.Series(P["c"], dtype=float)
    # long average (maroon): values for the first part, computed afterwards
    ma60 = close.rolling(60).mean()
    lx = list(P["hi"]) + list(range(59, n))
    ly = list(P["hv"]) + list(ma60.iloc[59:])
    fig.add_trace(go.Scatter(x=lx, y=ly, mode="lines", xaxis=xp, yaxis=yp,
                             line=dict(color=MA60_COLOR, width=1.2, shape="spline", smoothing=0.6), hoverinfo="skip"))
    for m in (20, 10, 5):
        fig.add_trace(go.Scatter(x=idx, y=close.rolling(m, min_periods=1).mean(), mode="lines",
                                 xaxis=xp, yaxis=yp, line=dict(color=MA_COLORS[m], width=1), hoverinfo="skip"))

    # volume
    vol = pd.Series(P["v"], dtype=float)
    fig.add_trace(go.Bar(x=idx, y=P["v"], marker=dict(color=colors, line=dict(width=0)), width=0.5,
                         xaxis=xv, yaxis=yv, hoverinfo="skip"))
    fig.add_trace(go.Scatter(x=idx, y=vol.rolling(10, min_periods=1).mean(), mode="lines", xaxis=xv, yaxis=yv,
                             line=dict(color="#909090", width=1), hoverinfo="skip"))
    fig.add_trace(go.Scatter(x=idx, y=vol.rolling(5, min_periods=1).mean(), mode="lines", xaxis=xv, yaxis=yv,
                             line=dict(color="#e000e0", width=1), hoverinfo="skip"))

    xax = dict(domain=[fx(x0), fx(x1)], range=xr, showgrid=False, zeroline=False, showticklabels=False,
               ticks="", showline=False, fixedrange=True)
    layout["xaxis" if pa == 1 else f"xaxis{pa}"] = dict(xax, anchor=yp)
    layout[f"xaxis{va}"] = dict(xax, anchor=yv)
    yax = dict(showgrid=True, gridcolor=GRID, griddash="1px,3px", gridwidth=1, zeroline=False,
               showticklabels=False, ticks="", showline=False, fixedrange=True)
    layout["yaxis" if pa == 1 else f"yaxis{pa}"] = dict(yax, anchor=xp, domain=[fy(py1), fy(py0)],
                                                        range=yr, tickvals=P["grid"])
    layout[f"yaxis{va}"] = dict(yax, anchor=xv, domain=[fy(vy1), fy(vy0)], range=vr, tickvals=P["vgrid"])

    for val in P["labels"]:
        annotations.append(dict(x=fx(P["lab_x"]), xref="paper", y=val, yref=yp, text=str(val), showarrow=False,
                                xanchor="right", yanchor="middle", font=dict(size=12.5, color=LABEL,
                                                                             family="Liberation Sans")))
    for val in P["vlabels"]:
        annotations.append(dict(x=fx(P["lab_x"]), xref="paper", y=val, yref=yv, text=str(val), showarrow=False,
                                xanchor="right", yanchor="middle", font=dict(size=12.5, color=LABEL,
                                                                             family="Liberation Sans")))
    # X1000 box
    bx0, bx1, by0, by1 = P["xbox"]
    shapes.append(dict(type="rect", xref="paper", yref="paper", x0=fx(bx0), x1=fx(bx1), y0=fy(by1), y1=fy(by0),
                       line=dict(color=FRAME, width=1), fillcolor="white"))
    annotations.append(dict(x=fx((bx0 + bx1) / 2), y=fy((by0 + by1) / 2), xref="paper", yref="paper", text="X1000",
                            showarrow=False, xanchor="center", yanchor="middle",
                            font=dict(size=12.5, color=LABEL, family="Liberation Sans")))
    # title
    name, chg, amt = titles[k]
    tx, ty = P["title_xy"]
    if k == 0:
        shapes.append(dict(type="rect", xref="paper", yref="paper", x0=fx(5), x1=fx(89), y0=fy(14), y1=fy(0),
                           line=dict(width=0), fillcolor="#3ee0ee", layer="below"))
    annotations.append(dict(
        x=fx(tx), y=fy(ty), xref="paper", yref="paper", xanchor="left", yanchor="top", showarrow=False,
        borderpad=0, align="left",
        text=(f"{name} <span style='color:#1f7a1f'>{chg}</span> 成交额 "
              f"<span style='color:#c8582e'>{amt}</span>"),
        font=dict(size=12, color="black", family="Liberation Sans, Noto Sans CJK SC")))


def hline(y, xa, xb, color=FRAME, w=1):
    shapes.append(dict(type="line", xref="paper", yref="paper", x0=fx(xa), x1=fx(xb), y0=fy(y), y1=fy(y),
                       line=dict(color=color, width=w)))


def vline(x, ya, yb, color=FRAME, w=1):
    shapes.append(dict(type="line", xref="paper", yref="paper", x0=fx(x), x1=fx(x), y0=fy(ya), y1=fy(yb),
                       line=dict(color=color, width=w)))


vline(635.5, 0, 765)
vline(685.5, 0, 765)
vline(1314.5, 0, 765)
hline(284.5, 0, 635.5)
hline(284.5, 685.5, 1314.5)
hline(668.5, 0, 635.5)
hline(668.5, 685.5, 1314.5)
hline(380.5, 0, 1366)
vline(4.5, 0, 768, color="#4a6888", w=1.5)
shapes.append(dict(type="rect", xref="paper", yref="paper", x0=0, x1=1, y0=0, y1=fy(765),
                   line=dict(width=0), fillcolor="#c8c8c8"))

layout["annotations"] = annotations
layout["shapes"] = shapes
fig.update_layout(**layout)
fig.write_html("out.html", config={"displayModeBar": False, "staticPlot": True},
               post_script="document.body.style.margin='0';")
